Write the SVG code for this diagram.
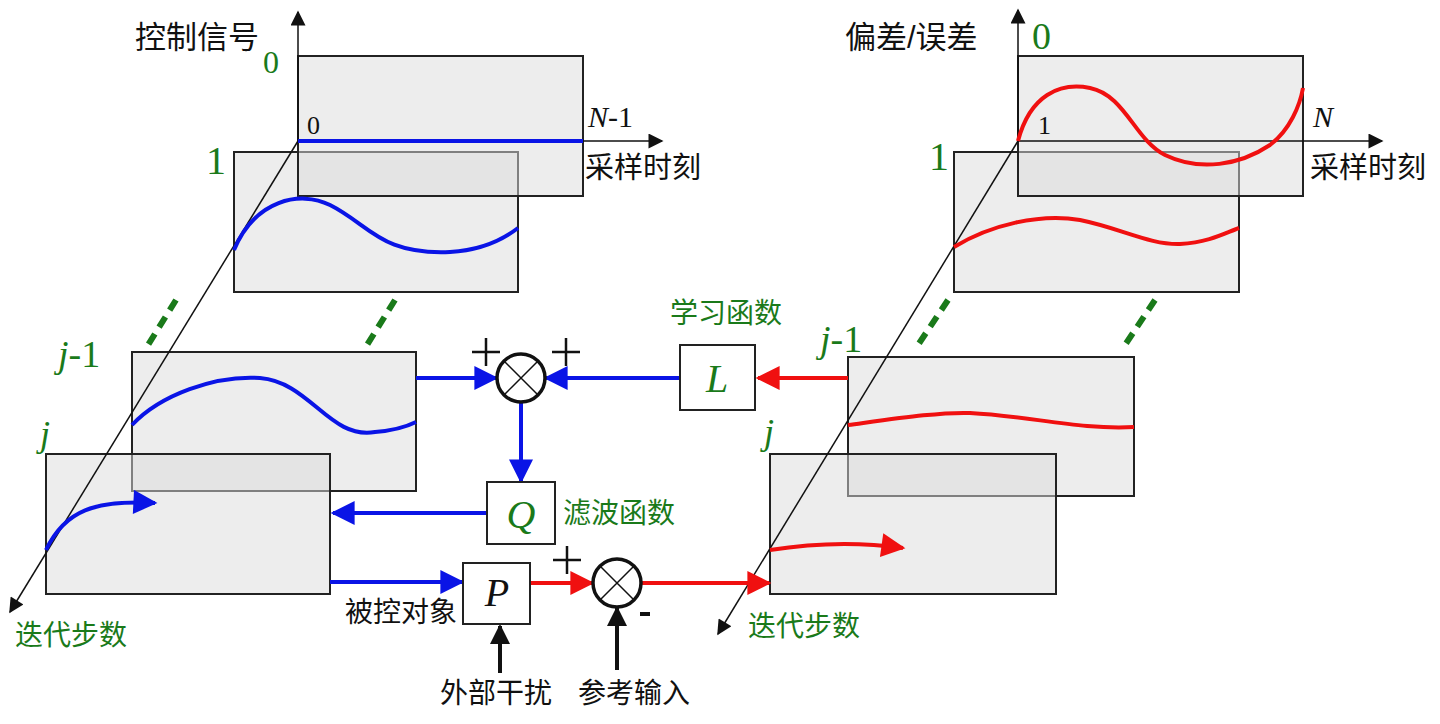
<svg xmlns="http://www.w3.org/2000/svg" width="1440" height="724" viewBox="0 0 1440 724">
<style>
.p{fill:#dcdcdc;fill-opacity:.5;stroke:#222;stroke-width:2}
.t{font-family:"Liberation Sans","Noto Sans CJK SC",sans-serif;font-size:28px;fill:#111}
.n{font-family:"Liberation Serif","Noto Sans CJK SC",serif;fill:#111}
.g{fill:#1a7a1a}
.b{stroke:#0a14e6;stroke-width:4;fill:none}
.r{stroke:#f01010;stroke-width:4;fill:none}
.k{stroke:#111;stroke-width:1.5;fill:none}
.d{stroke:#1a7a1a;stroke-width:6;stroke-dasharray:12 8;fill:none}
.box{fill:#fff;stroke:#222;stroke-width:2}
.c{fill:#fff;stroke:#111;stroke-width:3.5}
</style>
<defs>
<marker id="ab" viewBox="0 0 10 10" refX="9" refY="5" markerWidth="8" markerHeight="6" markerUnits="strokeWidth" orient="auto"><path d="M0,0L10,5L0,10z" fill="#0a14e6"/></marker>
<marker id="ar" viewBox="0 0 10 10" refX="9" refY="5" markerWidth="8" markerHeight="6" markerUnits="strokeWidth" orient="auto"><path d="M0,0L10,5L0,10z" fill="#f01010"/></marker>
<marker id="ak" viewBox="0 0 10 10" refX="9" refY="5" markerWidth="16" markerHeight="10" markerUnits="strokeWidth" orient="auto"><path d="M0,0L10,5L0,10z" fill="#111"/></marker>
<marker id="ak2" viewBox="0 0 10 10" refX="9" refY="5" markerWidth="8" markerHeight="5" markerUnits="strokeWidth" orient="auto"><path d="M0,0L10,5L0,10z" fill="#111"/></marker>
</defs>
<g id="left-panel">
<rect class="p" x="132" y="352" width="284" height="139"/>
<rect class="p" x="46" y="454" width="284" height="140"/>
<rect class="p" x="234" y="152" width="284" height="140"/>
<rect class="p" x="298" y="56" width="285" height="140"/>
<line class="k" x1="298" y1="141" x2="298" y2="12" marker-end="url(#ak)"/>
<line class="k" x1="298" y1="141" x2="662" y2="141" marker-end="url(#ak)"/>
<line class="k" x1="298" y1="141" x2="10" y2="612" marker-end="url(#ak)"/>
<line class="b" x1="298" y1="141" x2="583" y2="141"/>
<path class="b" d="M234,250C255,200 300,190 330,205C370,225 380,255 450,252C485,250 505,238 518,228"/>
<path class="b" d="M132,425C160,395 215,375 260,378C310,382 330,440 375,432C400,430 410,425 416,422"/>
<path class="b" d="M46,550C65,510 95,500 155,503" marker-end="url(#ab)"/>
<line class="d" x1="176" y1="300" x2="148" y2="345"/>
<line class="d" x1="395" y1="300" x2="367" y2="345"/>
<text class="t" x="135" y="48" style="font-size:31px">控制信号</text>
<text class="n g" x="263" y="73" style="font-size:32px">0</text>
<text class="n" x="307" y="134" style="font-size:26px">0</text>
<text class="n" x="588" y="127" style="font-size:30px"><tspan font-style="italic">N</tspan>-1</text>
<text class="t" x="585" y="178" style="font-size:29px">采样时刻</text>
<text class="n g" x="206" y="174" style="font-size:40px">1</text>
<text class="n g" x="58" y="367" style="font-size:38px"><tspan font-style="italic">j</tspan>-1</text>
<text class="n g" x="40" y="446" style="font-size:36px;font-style:italic">j</text>
<text class="t g" x="15" y="645">迭代步数</text>
</g>
<g id="right-panel">
<rect class="p" x="848" y="357" width="286" height="139"/>
<rect class="p" x="770" y="454" width="286" height="140"/>
<rect class="p" x="954" y="152" width="285" height="140"/>
<rect class="p" x="1018" y="56" width="285" height="140"/>
<line class="k" x1="1018" y1="141" x2="1018" y2="10" marker-end="url(#ak)"/>
<line class="k" x1="1018" y1="141" x2="1382" y2="141" marker-end="url(#ak)"/>
<line class="k" x1="1018" y1="141" x2="718" y2="634" marker-end="url(#ak)"/>
<path class="r" d="M1018,141C1030,95 1060,82 1090,88C1125,95 1135,140 1165,155C1200,172 1240,165 1270,145C1290,130 1300,105 1303,88"/>
<path class="r" d="M954,247C990,225 1040,213 1080,220C1120,228 1150,245 1180,244C1210,242 1225,233 1239,228"/>
<path class="r" d="M848,425C900,418 940,412 970,413C1030,416 1080,430 1134,427"/>
<path class="r" d="M770,550C820,542 860,542 903,548" marker-end="url(#ar)"/>
<line class="d" x1="948" y1="300" x2="918" y2="345"/>
<line class="d" x1="1155" y1="300" x2="1123" y2="348"/>
<text class="t" x="845" y="48" style="font-size:31px">偏差/误差</text>
<text class="n g" x="1032" y="49" style="font-size:38px">0</text>
<text class="n" x="1038" y="134" style="font-size:26px">1</text>
<text class="n" x="1313" y="127" style="font-size:30px;font-style:italic">N</text>
<text class="t" x="1310" y="178" style="font-size:29px">采样时刻</text>
<text class="n g" x="929" y="170" style="font-size:40px">1</text>
<text class="n g" x="820" y="352" style="font-size:38px"><tspan font-style="italic">j</tspan>-1</text>
<text class="n g" x="764" y="444" style="font-size:36px;font-style:italic">j</text>
<text class="t g" x="748" y="636">迭代步数</text>
</g>
<g id="connectors">
<line class="b" x1="416" y1="378" x2="496" y2="378" marker-end="url(#ab)"/>
<line class="b" x1="680" y1="378" x2="546" y2="378" marker-end="url(#ab)"/>
<line class="r" x1="848" y1="378" x2="758" y2="378" marker-end="url(#ar)"/>
<line class="b" x1="521" y1="402" x2="521" y2="481" marker-end="url(#ab)"/>
<line class="b" x1="487" y1="513" x2="333" y2="513" marker-end="url(#ab)"/>
<line class="b" x1="330" y1="582" x2="462" y2="582" marker-end="url(#ab)"/>
<line class="r" x1="530" y1="583" x2="592" y2="583" marker-end="url(#ar)"/>
<line class="r" x1="641" y1="583" x2="769" y2="583" marker-end="url(#ar)"/>
<line stroke="#111" stroke-width="4" x1="500" y1="673" x2="500" y2="626" marker-end="url(#ak2)"/>
<line stroke="#111" stroke-width="4" x1="617" y1="670" x2="617" y2="608" marker-end="url(#ak2)"/>
</g>
<g id="sum1">
<circle class="c" cx="521" cy="378" r="24"/>
<path class="k" d="M504,361L538,395M538,361L504,395"/>
<path stroke="#111" stroke-width="2.5" d="M472,352h28M486,338v28M552,352h28M566,338v28"/>
</g>
<g id="sum2">
<circle class="c" cx="617" cy="583" r="24"/>
<path class="k" d="M600,566L634,600M634,566L600,600"/>
<path stroke="#111" stroke-width="2.5" d="M553,560h28M567,546v28"/>
<path stroke="#111" stroke-width="4" d="M640,614h10"/>
</g>
<g id="L"><rect class="box" x="680" y="345" width="75" height="65"/><text class="n g" x="717" y="392" style="font-size:40px;font-style:italic" text-anchor="middle">L</text><text class="t g" x="670" y="323">学习函数</text></g>
<g id="Q"><rect class="box" x="487" y="482" width="68" height="62"/><text class="n g" x="521" y="528" style="font-size:40px;font-style:italic" text-anchor="middle">Q</text><text class="t g" x="563" y="523">滤波函数</text></g>
<g id="P"><rect class="box" x="463" y="563" width="67" height="61"/><text class="n" x="497" y="606" style="font-size:40px;font-style:italic" text-anchor="middle">P</text><text class="t" x="457" y="622" text-anchor="end">被控对象</text></g>
<text class="t" x="440" y="703">外部干扰</text>
<text class="t" x="578" y="703">参考输入</text>
</svg>
